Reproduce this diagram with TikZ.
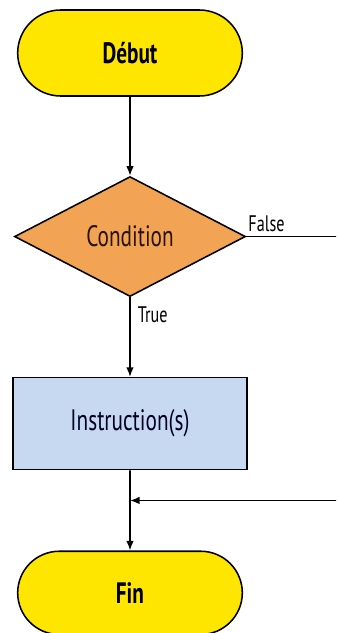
\documentclass[tikz,border=0pt]{standalone}
\usepackage{fontspec}
\setmainfont[FakeStretch=0.72]{PT Sans}
\usepackage{xcolor}
\usetikzlibrary{positioning,arrows.meta,shapes.geometric,shapes.misc}
\definecolor{jauneFin}{RGB}{255,230,0}
\definecolor{orangeCond}{RGB}{242,163,84}
\definecolor{bleuInstr}{RGB}{198,217,240}

\begin{document}
\begin{tikzpicture}[
        line width=1.1pt,
        terminal/.style={draw, rounded rectangle, fill=jauneFin, minimum width=5.85cm,
                         minimum height=2.15cm, font=\fontsize{21}{24}\selectfont\bfseries},
        decision/.style={draw, diamond, fill=orangeCond, inner sep=0pt, minimum width=5.775cm,
                         minimum height=3cm, text=black!75!orange!60!black,
                         font=\fontsize{21}{24}\selectfont},
        action/.style={draw, rectangle, fill=bleuInstr, minimum width=5.85cm,
                       minimum height=2.3cm, text=black!80!blue!70!black,
                       font=\fontsize{21}{24}\selectfont},
        etiq/.style={font=\fontsize{16}{18}\selectfont, inner sep=1pt},
        fleche/.style={-{Latex[length=2.4mm,width=1.9mm]}},
        node distance=1.975cm
    ]
        \useasboundingbox (0,0) rectangle (8.4,-15.825);
        \clip (0,0) rectangle (8.4,-15.825);
        \node[terminal] (debut) at (3.25,-1.325) {Début};
        \node[decision, below=of debut] (cond) {Condition};
        \node[action, below=1.99cm of cond] (instr) {Instruction(s)};
        \node[terminal, below=2.0cm of instr, minimum height=2.08cm] (fin) {Fin};
        \coordinate[below=0.75cm of instr] (jonction);
        \coordinate (retour) at (9,0);
        \draw[fleche] (debut) -- (cond);
        \draw[fleche] (cond) -- node[etiq, pos=0.22, right, xshift=4pt] {True} (instr);
        \draw[fleche] (cond.east) -- node[etiq, pos=0.0, above right, xshift=0pt, yshift=2pt] {False}
            (cond.east -| retour) |- (jonction);
        \draw[fleche] (instr) -- (fin);
    \end{tikzpicture}
\end{document}
